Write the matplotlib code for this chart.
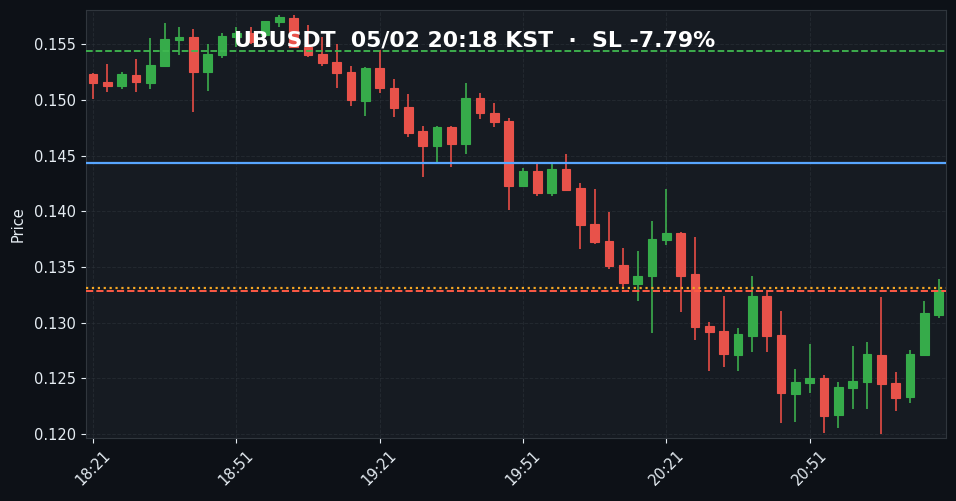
import matplotlib
matplotlib.use("Agg")
import matplotlib.pyplot as plt
import numpy as np

opens = [.15233,.15162,.15126,.15224,.15155,.15308,.15539,.15566,.15254,.15404,
         .15568,.15601,.15583,.15700,.15736,.15480,.15413,.15341,.15251,.14994,
         .15287,.15108,.14937,.14722,.14587,.14760,.14608,.15018,.14883,.14811,
         .14231,.14363,.14168,.14381,.14210,.13887,.13734,.13519,.13349,.13420,
         .13743,.13806,.13438,.12971,.12926,.12714,.12882,.13241,.12890,.12361,
         .12460,.12504,.12172,.12415,.12469,.12711,.12458,.12334,.12711,.13073]
highs = [.15240,.15320,.15247,.15365,.15554,.15689,.15653,.15635,.15500,.15599,
         .15658,.15658,.15713,.15763,.15763,.15673,.15563,.15500,.15303,.15296,
         .15450,.15190,.15051,.14769,.14767,.14767,.15150,.15060,.14970,.14836,
         .14392,.14425,.14425,.14518,.14258,.14198,.13992,.13669,.13642,.13917,
         .14198,.13815,.13768,.13004,.13238,.12956,.13423,.13279,.13103,.12588,
         .12812,.12534,.12471,.12794,.12830,.13229,.12556,.12753,.13198,.13390]
lows = [.15009,.15069,.15096,.15069,.15096,.15308,.15404,.14890,.15078,.15374,
        .15480,.15500,.15583,.15658,.15480,.15383,.15303,.15105,.14943,.14854,
        .15066,.14845,.14665,.14312,.14443,.14396,.14513,.14827,.14755,.14010,
        .14216,.14136,.14142,.14195,.13662,.13705,.13480,.13301,.13193,.12906,
        .13696,.13094,.12843,.12565,.12600,.12565,.12735,.12735,.12098,.12107,
        .12367,.12013,.12053,.12224,.12224,.11999,.12211,.12277,.12711,.13040]
closes = [.15155,.15126,.15233,.15164,.15314,.15548,.15566,.15254,.15413,.15575,
          .15601,.15521,.15708,.15742,.15480,.15404,.15335,.15245,.15003,.15287,
          .15105,.14931,.14706,.14587,.14760,.14608,.15018,.14886,.14805,.14231,
          .14363,.14168,.14381,.14195,.13881,.13725,.13510,.13357,.13420,.13752,
          .13806,.13420,.12962,.12917,.12723,.12900,.13241,.12885,.12370,.12469,
          .12504,.12163,.12424,.12478,.12720,.12451,.12325,.12720,.13088,.13294]

tick_pos = [0, 10, 20, 30, 40, 50]
tick_labels = ["18:21", "18:51", "19:21", "19:51", "20:21", "20:51"]
y_ticks = [0.120, 0.125, 0.130, 0.135, 0.140, 0.145, 0.150, 0.155]

tp_level = 0.15440
entry_level = 0.14434
liq_level = 0.13316
sl_level = 0.13288

BG = "#0d1117"
PANEL = "#161b22"
GREEN = "#36ab4a"
GREEN_EDGE = "#3fb950"
RED = "#e8524a"
RED_EDGE = "#f85149"

fig = plt.figure(figsize=(9.56, 5.01), dpi=100, facecolor=BG)
ax = fig.add_axes([85.8/956, 1-438.3/501, 860/956, 428.3/501], facecolor=PANEL)

for i in range(len(opens)):
    up = closes[i] >= opens[i]
    col = GREEN if up else RED
    edge = GREEN_EDGE if up else RED_EDGE
    ax.vlines(i, lows[i], highs[i], color=edge, linewidth=1.1, zorder=2)
    ax.bar(i, abs(closes[i]-opens[i]), bottom=min(opens[i], closes[i]), width=0.6,
           color=col, edgecolor=col, linewidth=0.8, zorder=3)

ax.axhline(tp_level, color=GREEN_EDGE, linestyle="--", linewidth=1.3, zorder=4)
ax.axhline(entry_level, color="#58a6ff", linestyle="-", linewidth=1.6, zorder=4)
ax.axhline(liq_level, color="#f5a623", linestyle=":", linewidth=1.6, zorder=4)
ax.axhline(sl_level, color="#ff5a45", linestyle="--", linewidth=1.4, zorder=5)

ax.set_xlim(-0.5, 59.5)
ax.set_ylim(0.11962, 0.15808)
ax.set_xticks(tick_pos)
ax.set_xticklabels(tick_labels, rotation=45, color="#e6edf3", fontsize=10.5)
ax.set_yticks(y_ticks)
ax.set_yticklabels(["%.3f" % v for v in y_ticks], color="#ffffff", fontsize=10.5)
ax.tick_params(axis="both", colors="#e6edf3", length=3.5)
ax.set_ylabel("Price", color="#e6edf3", fontsize=10.5, labelpad=6)
ax.grid(True, color="#30363d", linestyle="--", linewidth=0.7, alpha=0.5)
ax.set_axisbelow(True)
for s in ax.spines.values():
    s.set_color("#30363d")

fig.text(0.4965, 1-41/501, "UBUSDT  05/02 20:18 KST  ·  SL -7.79%", color="white",
         fontsize=15.8, fontweight="bold", ha="center", va="center", zorder=10)

fig.savefig("out.png", dpi=100, facecolor=BG)
